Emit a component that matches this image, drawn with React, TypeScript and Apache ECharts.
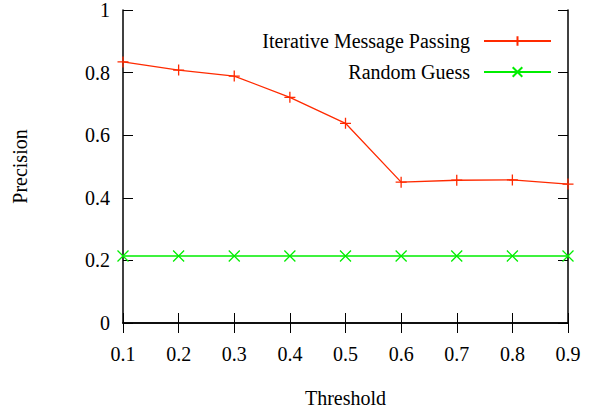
import React, { useEffect, useRef } from "react";
import * as echarts from "echarts";

const categories = ["0.1", "0.2", "0.3", "0.4", "0.5", "0.6", "0.7", "0.8", "0.9"];
const iterativeValues = [0.834, 0.808, 0.789, 0.721, 0.638, 0.45, 0.456, 0.457, 0.444];
const randomValues = [0.214, 0.214, 0.214, 0.214, 0.214, 0.214, 0.214, 0.214, 0.214];
const seriesNames = ["Iterative Message Passing", "Random Guess"];

const FONT = "'Liberation Serif', 'Times New Roman', serif";
const plusSym = "path://M0,5L10,5M5,0L5,10";
const crossSym = "path://M0,0L10,10M10,0L0,10";

export default function App() {
  const ref = useRef<HTMLDivElement>(null);
  useEffect(() => {
    const chart = echarts.init(ref.current!, null, { renderer: "svg" });
    const axisLine = { show: true, lineStyle: { color: "#000", width: 1.5 } };
    chart.setOption({
      animation: false,
      textStyle: { fontFamily: FONT },
      grid: { left: 123, right: 23, top: 10, bottom: 85, containLabel: false, outerBoundsMode: "none" },
      legend: {
        orient: "vertical",
        right: 34,
        top: 26,
        align: "right",
        itemWidth: 67,
        itemHeight: 12,
        itemGap: 11,
        textStyle: { fontFamily: FONT, fontSize: 20, color: "#000", padding: [0, 9, 0, 0] },
        data: seriesNames,
      },
      xAxis: [
        {
          type: "category",
          data: categories,
          boundaryGap: false,
          name: "Threshold",
          nameLocation: "middle",
          nameGap: 65,
          nameTextStyle: { fontFamily: FONT, fontSize: 20, color: "#000" },
          axisLine,
          axisTick: { inside: true, length: 10, lineStyle: { color: "#000", width: 1 } },
          axisLabel: { fontFamily: FONT, fontSize: 20, color: "#000", margin: 21 },
          splitLine: { show: false },
        },
        {
          type: "category",
          data: categories,
          boundaryGap: false,
          position: "top",
          axisLine,
          axisTick: { inside: true, length: 10, lineStyle: { color: "#000", width: 1 } },
          axisLabel: { show: false },
          splitLine: { show: false },
        },
      ],
      yAxis: [
        {
          type: "value",
          min: 0,
          max: 1,
          interval: 0.2,
          name: "Precision",
          nameLocation: "middle",
          nameGap: 93,
          nameTextStyle: { fontFamily: FONT, fontSize: 20, color: "#000" },
          axisLine,
          axisTick: { show: true, inside: true, length: 10, lineStyle: { color: "#000", width: 1 } },
          axisLabel: {
            fontFamily: FONT,
            fontSize: 20,
            color: "#000",
            margin: 13,
            formatter: (v: number) => (v === 0 ? "0" : v === 1 ? "1" : String(Math.round(v * 10) / 10)),
          },
          splitLine: { show: false },
        },
        {
          type: "value",
          min: 0,
          max: 1,
          interval: 0.2,
          position: "right",
          axisLine,
          axisTick: { show: true, inside: true, length: 10, lineStyle: { color: "#000", width: 1 } },
          axisLabel: { show: false },
          splitLine: { show: false },
        },
      ],
      series: [
        {
          name: seriesNames[0],
          type: "line",
          data: iterativeValues,
          symbol: plusSym,
          symbolSize: 11,
          showAllSymbol: true,
          lineStyle: { color: "#ff2a00", width: 1.3 },
          itemStyle: { color: "#ff2a00", borderColor: "#ff2a00", borderWidth: 1.3 },
          emphasis: { disabled: true },
        },
        {
          name: seriesNames[1],
          type: "line",
          data: randomValues,
          symbol: crossSym,
          symbolSize: 11,
          showAllSymbol: true,
          lineStyle: { color: "#00ee00", width: 1.3 },
          itemStyle: { color: "#00ee00", borderColor: "#00ee00", borderWidth: 1.3 },
          emphasis: { disabled: true },
        },
      ],
    });
    return () => chart.dispose();
  }, []);
  return <div ref={ref} style={{ width: 591, height: 408, position: "absolute", left: 0, top: 0 }} />;
}
